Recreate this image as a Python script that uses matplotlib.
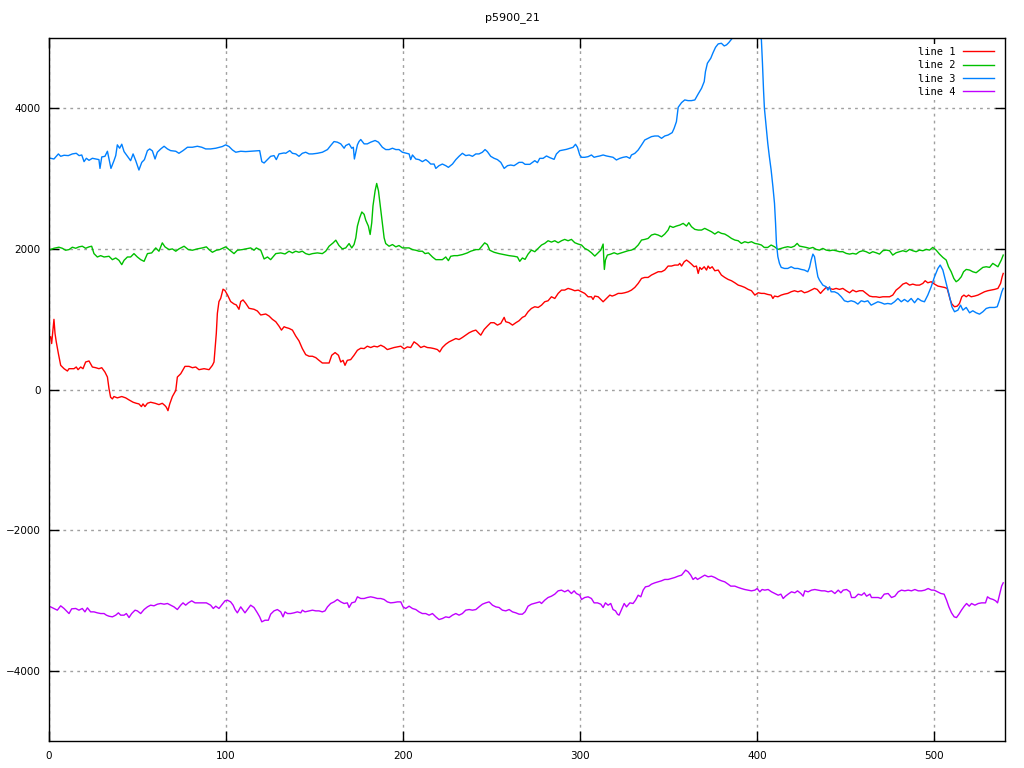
import matplotlib
matplotlib.use("Agg")
import matplotlib.pyplot as plt

title = "p5900_21"
labels = ["line 1", "line 2", "line 3", "line 4"]
colors = ["#ff0000", "#00c000", "#0080ff", "#c000ff"]
x_ticks = [0, 100, 200, 300, 400, 500]
y_ticks = [-4000, -2000, 0, 2000, 4000]

# line 1 (red)
t1 = [0.9, 1.5, 2.8, 3.4, 4.1, 5.3, 6.6, 8.5, 10.4, 11.3, 14.1, 15.4, 16.4, 17.9, 19.2, 20.7, 22.6, 24.5, 26.4, 28.2,
      29.8, 31.6, 33.0, 33.9, 34.8, 35.8, 36.7, 38.6, 41.1, 43.3, 45.2, 47.5, 49.3, 50.8, 52.2, 53.1, 54.2, 55.6, 57.4, 59.9,
      62.1, 64.0, 65.5, 66.3, 67.2, 68.2, 69.7, 71.6, 72.5, 74.4, 76.8, 79.1, 81.0, 82.9, 84.7, 87.6, 90.4, 92.3, 93.2, 94.5,
      95.1, 96.0, 97.0, 98.3, 99.4, 100.8, 102.6, 104.5, 105.8, 107.3, 108.3, 109.6, 111.1, 113.0, 115.8, 117.7, 119.6, 122.4, 124.3, 126.2,
      128.1, 129.9, 131.3, 132.8, 133.7, 135.6, 137.5, 139.4, 141.2, 143.1, 145.0, 146.9, 148.8, 150.7, 152.5, 154.4, 156.3, 158.2, 159.7, 161.6,
      163.5, 164.8, 166.1, 167.2, 168.5, 170.4, 172.3, 174.2, 176.1, 178.0, 179.8, 181.7, 183.6, 185.5, 187.4, 189.3, 191.1, 193.0, 194.9, 196.8,
      198.7, 200.6, 202.4, 204.3, 206.2, 208.1, 210.0, 211.9, 213.7, 215.6, 217.5, 219.4, 220.7, 222.2, 224.1, 226.0, 227.9, 229.8, 231.6, 233.5,
      235.4, 237.3, 239.2, 241.1, 242.9, 243.9, 245.8, 247.6, 249.5, 251.4, 253.3, 255.2, 257.1, 258.0, 259.9, 261.8, 263.7, 265.5, 267.4, 268.9,
      270.6, 272.5, 274.4, 276.3, 278.2, 280.0, 281.9, 283.8, 285.7, 287.6, 289.5, 291.3, 293.2, 295.1, 297.0, 298.9, 300.8, 302.6, 304.5, 306.4,
      307.3, 308.3, 310.2, 311.7, 313.0, 314.9, 316.8, 318.1, 319.6, 321.5, 323.4, 325.2, 327.1, 329.0, 330.9, 332.8, 334.7, 336.5, 338.4, 340.3,
      342.2, 344.1, 346.0, 347.8, 349.7, 351.6, 353.5, 355.4, 356.3, 357.3, 358.8, 360.1, 361.4, 362.9, 364.4, 365.7, 366.7, 367.6, 368.6, 370.1,
      371.4, 372.3, 373.3, 374.6, 376.1, 378.0, 379.8, 381.7, 383.6, 385.5, 387.4, 389.3, 391.1, 393.0, 394.9, 396.8, 398.7, 400.6, 402.4, 404.0,
      406.0, 407.9, 408.9, 409.8, 411.7, 413.6, 415.4, 417.3, 419.2, 421.1, 423.0, 424.9, 426.7, 428.6, 430.5, 432.4, 433.9, 435.8, 437.1, 439.0,
      440.9, 442.8, 444.6, 446.5, 448.4, 450.3, 452.2, 454.0, 455.9, 457.8, 459.7, 461.6, 463.5, 465.3, 467.2, 469.1, 471.0, 472.9, 474.8, 476.6,
      478.5, 480.4, 482.3, 484.2, 486.1, 487.9, 489.8, 491.7, 493.6, 494.9, 496.4, 498.3, 500.2, 502.1, 504.0, 505.8, 507.3, 508.1, 509.0, 510.0,
      511.5, 513.0, 514.3, 515.6, 516.8, 518.1, 519.4, 520.9, 522.8, 524.7, 526.6, 528.4, 530.3, 532.2, 534.1, 536.0, 537.5, 538.4, 539.0]
v1 = [749, 654, 998, 797, 678, 511, 344, 296, 263, 296, 296, 320, 282, 320, 296, 391, 406, 320, 310, 296,
      310, 248, 177, 10, -110, -134, -100, -119, -100, -119, -148, -181, -196, -205, -243, -205, -243, -196, -181, -196,
      -215, -196, -229, -253, -301, -205, -100, -14, 177, 224, 329, 329, 310, 320, 282, 296, 282, 344, 391, 797,
      1083, 1251, 1298, 1427, 1408, 1346, 1251, 1217, 1203, 1141, 1251, 1274, 1227, 1155, 1141, 1117, 1060, 1074, 1045, 998,
      964, 902, 845, 893, 883, 869, 845, 759, 692, 582, 496, 473, 473, 453, 415, 377, 377, 377, 487, 525,
      487, 391, 415, 344, 415, 425, 487, 558, 587, 582, 616, 597, 616, 606, 630, 606, 568, 582, 597, 606,
      616, 578, 606, 597, 678, 644, 597, 616, 597, 592, 582, 568, 535, 597, 644, 678, 702, 725, 711, 740,
      773, 807, 830, 845, 797, 773, 854, 902, 950, 950, 916, 940, 1026, 964, 950, 916, 950, 978, 1026, 1044,
      1106, 1153, 1177, 1167, 1200, 1248, 1262, 1319, 1295, 1367, 1414, 1414, 1438, 1424, 1405, 1414, 1390, 1367, 1319, 1319,
      1281, 1329, 1319, 1281, 1248, 1295, 1343, 1329, 1343, 1367, 1367, 1376, 1390, 1414, 1452, 1509, 1580, 1594, 1594, 1628,
      1651, 1675, 1675, 1699, 1756, 1756, 1770, 1770, 1794, 1756, 1817, 1841, 1817, 1784, 1746, 1756, 1651, 1737, 1708, 1746,
      1699, 1756, 1722, 1746, 1689, 1699, 1628, 1594, 1566, 1547, 1518, 1485, 1471, 1452, 1424, 1405, 1343, 1376, 1367, 1367,
      1352, 1343, 1295, 1329, 1319, 1343, 1357, 1367, 1390, 1405, 1390, 1405, 1376, 1390, 1414, 1438, 1424, 1367, 1405, 1452,
      1438, 1424, 1438, 1424, 1438, 1405, 1376, 1414, 1390, 1405, 1405, 1367, 1329, 1319, 1319, 1310, 1319, 1319, 1319, 1343,
      1414, 1452, 1499, 1518, 1485, 1499, 1485, 1485, 1509, 1547, 1518, 1533, 1499, 1471, 1461, 1452, 1438, 1367, 1281, 1215,
      1177, 1186, 1224, 1319, 1343, 1319, 1343, 1319, 1329, 1343, 1367, 1390, 1405, 1414, 1424, 1438, 1509, 1604, 1651]

# line 2 (green)
t2 = [0.9, 2.8, 5.6, 7.5, 9.4, 11.3, 13.2, 15.1, 16.9, 18.8, 20.7, 22.6, 24.1, 25.4, 27.3, 29.2, 31.1, 33.9, 35.8, 37.7,
      39.5, 41.1, 42.4, 44.3, 46.1, 48.0, 49.9, 51.8, 53.7, 55.6, 58.0, 60.3, 62.1, 64.0, 65.5, 67.8, 69.7, 71.6, 73.4, 76.3,
      78.7, 81.0, 83.8, 86.6, 88.9, 90.4, 92.3, 94.5, 96.4, 99.8, 101.7, 104.5, 106.4, 109.2, 112.1, 113.9, 115.8, 117.1, 119.6, 121.5,
      123.4, 125.2, 128.1, 130.9, 133.3, 135.6, 137.5, 139.4, 141.2, 143.1, 145.0, 146.9, 148.8, 151.6, 154.4, 156.3, 158.2, 160.5, 162.0, 163.8,
      165.7, 167.6, 169.5, 171.0, 172.3, 173.3, 174.2, 175.5, 176.7, 178.0, 178.9, 180.4, 181.4, 182.3, 183.0, 184.2, 185.1, 186.1, 187.0, 188.0,
      189.3, 190.2, 192.1, 194.0, 195.9, 197.7, 199.6, 201.5, 203.4, 205.3, 207.2, 209.0, 210.9, 212.4, 214.3, 216.6, 218.5, 220.3, 222.2, 224.1,
      225.6, 226.9, 228.8, 230.7, 233.5, 236.3, 238.2, 241.1, 242.9, 244.8, 246.1, 247.6, 249.0, 251.4, 254.2, 257.1, 259.9, 262.7, 264.6, 265.9,
      267.4, 268.9, 270.6, 272.5, 274.4, 276.3, 278.2, 280.0, 281.9, 283.8, 285.7, 287.6, 289.5, 291.3, 293.2, 295.1, 297.0, 298.9, 300.8, 302.6,
      304.5, 306.4, 308.3, 310.2, 311.7, 312.4, 313.0, 313.4, 313.7, 314.3, 315.4, 317.3, 319.2, 321.1, 323.4, 325.2, 327.1, 329.0, 330.9, 332.8,
      334.7, 336.5, 338.4, 340.3, 342.2, 344.1, 346.0, 347.8, 349.7, 350.7, 352.5, 354.4, 356.3, 358.2, 360.1, 361.4, 362.9, 364.8, 366.7, 368.6,
      370.4, 372.3, 374.2, 376.1, 378.0, 379.8, 381.7, 383.6, 385.5, 387.4, 389.3, 391.1, 393.0, 394.9, 396.8, 398.7, 400.6, 402.4, 404.0, 406.0,
      407.9, 409.8, 411.7, 413.6, 415.4, 417.3, 419.2, 421.1, 422.6, 423.9, 425.8, 427.7, 429.6, 431.5, 433.3, 435.2, 437.1, 439.0, 440.9, 442.8,
      444.6, 446.5, 448.4, 450.3, 452.2, 454.0, 455.9, 457.8, 459.7, 461.6, 463.5, 465.3, 467.2, 469.1, 471.0, 472.9, 474.8, 476.6, 478.5, 480.4,
      482.3, 484.2, 486.1, 487.9, 489.8, 491.7, 493.6, 495.5, 497.4, 499.2, 501.1, 503.0, 504.9, 506.8, 508.1, 509.6, 511.1, 512.4, 513.7, 515.3,
      516.6, 518.1, 520.0, 521.8, 523.7, 525.6, 527.5, 529.4, 531.3, 533.1, 534.5, 536.0, 537.9, 539.0]
v2 = [1990, 2009, 2024, 2009, 1981, 1990, 2024, 2009, 2029, 2038, 2009, 2029, 2038, 1933, 1885, 1904, 1885, 1895, 1847, 1871,
      1838, 1776, 1838, 1885, 1885, 1933, 1885, 1847, 1823, 1933, 1943, 2014, 1967, 2086, 2029, 1990, 2000, 1967, 2000, 2038,
      1990, 1981, 2000, 2014, 2029, 1990, 1952, 1981, 1990, 2029, 1990, 1933, 1981, 1990, 2005, 2014, 1981, 2014, 1981, 1857,
      1885, 1847, 1933, 1943, 1928, 1967, 1943, 1967, 1952, 1967, 1933, 1919, 1933, 1943, 1933, 1967, 2038, 2086, 2124, 2048,
      2000, 2014, 2076, 2014, 2062, 2157, 2324, 2444, 2525, 2492, 2410, 2324, 2205, 2372, 2611, 2826, 2931, 2826, 2635, 2420,
      2157, 2076, 2038, 2062, 2029, 2048, 2014, 2014, 2014, 1990, 1981, 1967, 1967, 1933, 1943, 1885, 1847, 1847, 1847, 1885,
      1833, 1895, 1904, 1904, 1919, 1943, 1967, 1990, 1990, 2048, 2086, 2062, 1981, 1952, 1933, 1919, 1904, 1895, 1885, 1823,
      1871, 1851, 1926, 1983, 1960, 2007, 2055, 2078, 2116, 2097, 2116, 2088, 2116, 2135, 2116, 2135, 2088, 2069, 2055, 2007,
      1983, 1945, 1898, 1945, 1983, 2031, 2069, 1841, 1708, 1841, 1912, 1926, 1945, 1926, 1945, 1960, 1974, 1983, 2007, 2055,
      2126, 2135, 2149, 2197, 2211, 2197, 2173, 2211, 2268, 2325, 2306, 2325, 2339, 2363, 2325, 2373, 2316, 2278, 2268, 2268,
      2292, 2268, 2244, 2211, 2244, 2221, 2211, 2183, 2149, 2126, 2116, 2078, 2102, 2088, 2102, 2078, 2069, 2055, 2021, 2021,
      2055, 2031, 1993, 2007, 2021, 2031, 2021, 2040, 2078, 2040, 2031, 2021, 2007, 2021, 1993, 1983, 2007, 1983, 1974, 1983,
      1974, 1960, 1960, 1936, 1926, 1936, 1926, 1960, 1974, 1960, 1936, 1960, 1945, 1926, 1974, 1983, 1974, 1912, 1945, 1960,
      1974, 1960, 1993, 1974, 1960, 1983, 1974, 1993, 1983, 2021, 1983, 1926, 1879, 1841, 1746, 1675, 1580, 1533, 1556, 1604,
      1675, 1708, 1699, 1675, 1661, 1699, 1737, 1746, 1737, 1794, 1770, 1746, 1841, 1912]

# line 3 (blue)
t3 = [0.9, 2.8, 5.3, 6.6, 8.5, 10.9, 13.2, 15.4, 17.0, 18.5, 19.8, 21.1, 22.6, 24.5, 26.4, 28.2, 28.8, 29.8, 31.6, 33.0,
      33.9, 35.0, 36.7, 37.7, 38.6, 39.9, 41.1, 42.4, 44.3, 46.1, 47.5, 49.0, 50.8, 52.4, 53.9, 55.6, 56.9, 58.4, 59.9, 61.2,
      63.1, 65.0, 66.9, 68.7, 71.6, 73.4, 75.7, 78.2, 81.0, 83.8, 86.3, 88.5, 91.3, 94.2, 97.9, 99.8, 101.7, 103.6, 105.5, 108.3,
      111.1, 113.9, 116.8, 119.0, 120.2, 121.5, 123.4, 125.2, 127.1, 128.4, 129.9, 132.8, 133.7, 136.0, 137.5, 139.4, 141.2, 143.1, 145.0, 146.9,
      148.8, 151.6, 154.4, 157.3, 159.1, 161.0, 162.9, 164.8, 166.7, 167.6, 169.5, 171.0, 171.9, 172.5, 173.3, 174.2, 175.1, 176.1, 178.0, 179.8,
      181.7, 184.2, 186.1, 188.3, 190.2, 192.1, 194.0, 195.9, 197.7, 199.6, 201.9, 203.4, 204.3, 205.3, 207.2, 209.0, 210.9, 212.8, 214.3, 215.6,
      217.5, 218.5, 220.3, 222.2, 224.1, 225.6, 227.9, 229.8, 231.6, 233.5, 235.4, 237.3, 239.2, 241.1, 242.9, 244.8, 246.3, 247.6, 249.5, 251.4,
      253.3, 255.2, 257.1, 259.0, 260.8, 262.7, 265.5, 267.4, 268.9, 271.6, 274.4, 275.9, 277.2, 279.1, 281.0, 282.9, 285.3, 286.6, 288.5, 290.4,
      292.3, 294.2, 296.0, 297.4, 298.5, 299.8, 300.8, 302.6, 304.5, 306.4, 307.9, 309.2, 311.1, 313.0, 314.9, 316.8, 318.6, 320.5, 322.4, 324.3,
      326.2, 328.1, 329.0, 330.9, 332.8, 334.7, 336.5, 338.4, 340.3, 342.2, 344.1, 346.0, 347.8, 349.7, 352.0, 353.1, 354.4, 355.4, 357.3, 359.1,
      361.0, 362.9, 364.8, 366.7, 368.6, 370.1, 370.8, 371.9, 373.8, 375.1, 376.5, 378.0, 379.8, 381.4, 382.7, 384.0, 385.5, 386.4, 389.0, 392.0,
      395.0, 398.0, 401.0, 402.4, 403.0, 403.6, 404.1, 405.1, 406.0, 406.9, 407.9, 408.9, 409.8, 410.4, 410.9, 411.7, 412.6, 413.6, 415.4, 417.3,
      419.2, 421.1, 423.0, 424.9, 426.7, 428.6, 429.6, 430.5, 431.5, 432.4, 433.3, 434.3, 435.2, 437.1, 439.0, 440.0, 440.9, 441.8, 443.7, 445.6,
      447.5, 449.3, 451.2, 453.1, 455.0, 456.9, 458.8, 460.6, 462.5, 464.4, 466.3, 468.2, 470.1, 471.9, 473.8, 475.7, 477.6, 479.5, 481.4, 483.2,
      485.1, 487.0, 488.9, 490.8, 492.7, 494.5, 496.4, 498.3, 500.2, 502.1, 503.4, 504.9, 506.8, 508.7, 510.0, 511.5, 513.4, 514.9, 516.2, 518.1,
      520.0, 521.8, 523.7, 525.6, 527.5, 529.4, 531.3, 534.1, 535.6, 536.9, 538.2, 539.0]
v3 = [3289, 3279, 3351, 3317, 3332, 3327, 3351, 3360, 3327, 3336, 3241, 3289, 3260, 3289, 3279, 3270, 3145, 3308, 3317, 3389,
      3279, 3145, 3255, 3327, 3480, 3432, 3489, 3384, 3317, 3255, 3351, 3255, 3122, 3231, 3270, 3398, 3422, 3394, 3279, 3375,
      3422, 3460, 3422, 3398, 3389, 3360, 3398, 3446, 3446, 3460, 3446, 3422, 3422, 3432, 3456, 3480, 3456, 3408, 3375, 3389,
      3384, 3389, 3394, 3398, 3241, 3222, 3270, 3317, 3327, 3270, 3351, 3365, 3360, 3398, 3360, 3351, 3317, 3360, 3375, 3351,
      3351, 3360, 3375, 3413, 3470, 3527, 3518, 3494, 3432, 3470, 3494, 3432, 3446, 3279, 3375, 3480, 3527, 3556, 3494, 3494,
      3518, 3542, 3518, 3446, 3413, 3413, 3432, 3413, 3413, 3375, 3360, 3351, 3270, 3336, 3279, 3270, 3241, 3270, 3241, 3207,
      3207, 3145, 3184, 3207, 3184, 3160, 3207, 3270, 3317, 3360, 3327, 3336, 3317, 3351, 3351, 3375, 3413, 3384, 3317, 3289,
      3270, 3231, 3145, 3184, 3193, 3184, 3231, 3231, 3203, 3203, 3255, 3227, 3288, 3288, 3322, 3298, 3274, 3350, 3397, 3407,
      3416, 3431, 3445, 3488, 3445, 3336, 3303, 3303, 3312, 3336, 3303, 3312, 3322, 3336, 3322, 3312, 3303, 3265, 3288, 3303,
      3312, 3288, 3336, 3359, 3407, 3478, 3549, 3573, 3597, 3606, 3606, 3573, 3606, 3620, 3654, 3715, 3810, 4014, 4081, 4119,
      4109, 4109, 4119, 4204, 4285, 4380, 4522, 4641, 4712, 4792, 4868, 4916, 4925, 4887, 4902, 4935, 4982, 5011, 5150, 5250,
      5300, 5250, 5100, 4973, 4641, 4261, 4000, 3739, 3502, 3312, 3122, 2885, 2648, 2363, 2078, 1889, 1794, 1737, 1722, 1722,
      1746, 1722, 1722, 1708, 1699, 1675, 1737, 1841, 1926, 1889, 1746, 1604, 1556, 1485, 1461, 1414, 1461, 1390, 1390, 1367,
      1319, 1262, 1248, 1262, 1248, 1215, 1262, 1248, 1262, 1200, 1224, 1248, 1234, 1215, 1224, 1215, 1248, 1295, 1248, 1281,
      1248, 1295, 1234, 1295, 1262, 1248, 1343, 1461, 1604, 1722, 1770, 1699, 1509, 1319, 1177, 1106, 1129, 1200, 1129, 1167,
      1091, 1120, 1091, 1072, 1106, 1153, 1167, 1167, 1177, 1272, 1390, 1438]

# line 4 (magenta)
t4 = [0.9, 2.8, 4.7, 6.6, 8.5, 10.4, 11.3, 12.8, 15.1, 16.9, 18.8, 20.3, 21.7, 23.5, 25.4, 27.3, 29.2, 31.1, 32.4, 33.9,
      35.8, 37.7, 39.2, 40.5, 42.4, 43.7, 45.2, 46.7, 48.6, 49.9, 51.8, 53.7, 55.6, 57.4, 59.3, 61.2, 63.1, 65.0, 66.9, 68.7,
      70.6, 72.5, 74.4, 75.7, 77.2, 78.7, 80.6, 82.5, 84.7, 86.6, 88.9, 91.3, 92.8, 94.2, 96.0, 97.9, 99.4, 100.8, 102.6, 104.0,
      105.1, 106.4, 108.3, 109.6, 110.7, 112.1, 113.9, 115.8, 117.7, 119.0, 120.2, 122.0, 123.9, 125.2, 127.1, 129.0, 130.9, 132.2, 133.3, 134.7,
      136.5, 138.4, 140.3, 142.2, 143.1, 144.6, 146.9, 148.8, 150.7, 152.5, 154.4, 155.9, 157.3, 159.1, 161.0, 162.9, 164.8, 166.7, 168.5, 169.5,
      171.0, 172.9, 174.2, 176.1, 178.0, 179.8, 181.7, 183.6, 185.5, 187.4, 189.3, 191.1, 193.0, 194.9, 196.8, 198.7, 200.0, 201.5, 203.4, 205.3,
      207.2, 209.0, 210.9, 212.8, 214.7, 216.6, 218.5, 220.3, 222.2, 224.1, 226.0, 227.9, 229.8, 231.6, 233.5, 235.4, 237.3, 239.2, 241.1, 242.9,
      244.8, 246.7, 248.6, 250.5, 252.4, 254.2, 256.1, 258.0, 259.9, 261.8, 263.7, 265.5, 267.4, 268.9, 270.6, 272.5, 275.3, 277.2, 278.2, 280.0,
      281.9, 283.8, 285.7, 287.6, 289.5, 291.3, 293.2, 295.1, 296.6, 297.9, 299.8, 300.8, 302.6, 304.5, 306.4, 307.9, 309.8, 311.7, 313.0, 314.3,
      315.8, 317.3, 318.6, 320.0, 321.1, 322.0, 323.4, 324.9, 326.2, 328.1, 329.9, 331.3, 332.8, 334.3, 335.6, 336.9, 338.8, 340.3, 342.2, 344.1,
      346.0, 347.8, 349.7, 351.6, 353.5, 355.4, 357.3, 358.8, 359.6, 361.0, 362.5, 363.8, 365.2, 366.3, 368.2, 370.4, 372.3, 374.2, 376.1, 378.0,
      379.8, 381.7, 383.6, 385.1, 387.4, 389.3, 391.1, 393.0, 394.9, 396.8, 398.7, 400.0, 401.5, 402.8, 404.3, 406.2, 408.1, 410.0, 411.9, 413.4,
      414.7, 416.0, 417.5, 419.4, 421.3, 422.8, 424.7, 426.0, 426.9, 428.8, 430.7, 432.6, 434.5, 436.4, 438.2, 440.1, 442.0, 443.9, 445.8, 447.3,
      448.6, 450.5, 452.4, 453.3, 455.2, 457.1, 459.0, 460.5, 461.8, 463.7, 464.6, 466.5, 468.4, 469.9, 471.8, 474.0, 475.9, 477.8, 479.7, 481.5,
      483.4, 485.3, 487.2, 489.1, 491.0, 492.8, 494.7, 496.6, 498.5, 500.0, 501.9, 503.8, 505.6, 507.0, 508.3, 509.8, 511.3, 512.6, 514.0, 515.4,
      517.0, 518.3, 519.8, 521.1, 523.0, 524.9, 526.8, 529.0, 530.1, 531.5, 533.3, 534.7, 535.8, 537.1, 538.1, 539.0]
v4 = [-3092, -3115, -3139, -3077, -3115, -3163, -3187, -3120, -3115, -3139, -3115, -3163, -3106, -3163, -3163, -3177, -3187, -3187, -3210, -3225,
      -3234, -3210, -3177, -3210, -3210, -3187, -3244, -3187, -3139, -3149, -3187, -3130, -3092, -3068, -3077, -3054, -3044, -3054, -3044, -3068,
      -3092, -3130, -3068, -3035, -3068, -3035, -3006, -3035, -3035, -3035, -3035, -3068, -3115, -3082, -3115, -3054, -3006, -2997, -3021, -3068,
      -3130, -3177, -3092, -3139, -3177, -3130, -3068, -3101, -3177, -3234, -3305, -3282, -3282, -3196, -3149, -3130, -3163, -3234, -3163, -3187,
      -3187, -3177, -3163, -3177, -3139, -3163, -3149, -3139, -3149, -3149, -3163, -3149, -3092, -3044, -3021, -2987, -3021, -3044, -3035, -3101,
      -3035, -3021, -2949, -2973, -2973, -2959, -2949, -2959, -2973, -2973, -2987, -3021, -3035, -3030, -3021, -3021, -3092, -3115, -3082, -3115,
      -3130, -3163, -3187, -3187, -3210, -3187, -3234, -3272, -3258, -3234, -3244, -3210, -3187, -3210, -3187, -3139, -3130, -3139, -3130, -3092,
      -3054, -3035, -3021, -3068, -3092, -3101, -3139, -3149, -3130, -3163, -3177, -3196, -3196, -3163, -3082, -3054, -3035, -3021, -3044, -2997,
      -2959, -2940, -2911, -2864, -2854, -2878, -2854, -2902, -2864, -2902, -2926, -2987, -2959, -2949, -2973, -3035, -3035, -3054, -3101, -3035,
      -3068, -3044, -3130, -3149, -3196, -3210, -3130, -3044, -3092, -3035, -3044, -2997, -2926, -2949, -2854, -2807, -2797, -2769, -2750, -2736,
      -2721, -2702, -2702, -2688, -2674, -2655, -2641, -2593, -2569, -2593, -2641, -2702, -2674, -2702, -2674, -2641, -2664, -2655, -2674, -2702,
      -2721, -2736, -2769, -2797, -2797, -2816, -2831, -2845, -2854, -2864, -2854, -2831, -2878, -2845, -2854, -2845, -2878, -2902, -2926, -2911,
      -2973, -2940, -2911, -2878, -2892, -2864, -2902, -2940, -2864, -2878, -2854, -2845, -2854, -2864, -2864, -2878, -2864, -2902, -2854, -2892,
      -2854, -2845, -2878, -2959, -2959, -2911, -2926, -2892, -2940, -2911, -2959, -2959, -2959, -2973, -2911, -2902, -2959, -2940, -2878, -2854,
      -2864, -2854, -2864, -2845, -2864, -2864, -2854, -2831, -2854, -2854, -2878, -2902, -2911, -2997, -3092, -3177, -3234, -3244, -3196, -3139,
      -3082, -3044, -3082, -3044, -3068, -3044, -3035, -3035, -2949, -2973, -2987, -3006, -3035, -2902, -2797, -2750]

series_t = [t1, t2, t3, t4]
series_v = [v1, v2, v3, v4]

W, H = 1024, 768
fig = plt.figure(figsize=(W / 100, H / 100), dpi=100)
ax = fig.add_axes([49 / W, 1 - 741 / H, (1005 - 49) / W, (741 - 38) / H])

for t, v, lab, c in zip(series_t, series_v, labels, colors):
    ax.plot(t, v, color=c, lw=1.0, label=lab)

ax.set_xlim(0, 540)
ax.set_ylim(-5000, 5000)
ax.set_xticks(x_ticks)
ax.set_yticks(y_ticks)
ax.grid(True, color="#a0a0a0", linestyle=(0, (2, 3)), linewidth=1.0)
ax.tick_params(direction="in", top=True, right=True, length=7, width=1,
               labelsize=7.5)
ax.tick_params(axis="y", pad=6)
ax.tick_params(axis="x", pad=7)
for s in ax.spines.values():
    s.set_linewidth(1.0)
    s.set_color("black")

fig.text(0.5, 1 - 18 / H, title, ha="center", va="center", fontsize=8)

leg = ax.legend(loc="upper right", frameon=True, fancybox=False,
                facecolor="white", edgecolor="none", framealpha=1.0,
                markerfirst=False,
                prop={"family": "DejaVu Sans Mono", "size": 7.5},
                handlelength=3.0, handletextpad=0.7, labelspacing=0.32,
                borderpad=0.3, borderaxespad=0,
                bbox_to_anchor=(997 / W, 1 - 44 / H),
                bbox_transform=fig.transFigure)

fig.savefig("out.png", dpi=100)
